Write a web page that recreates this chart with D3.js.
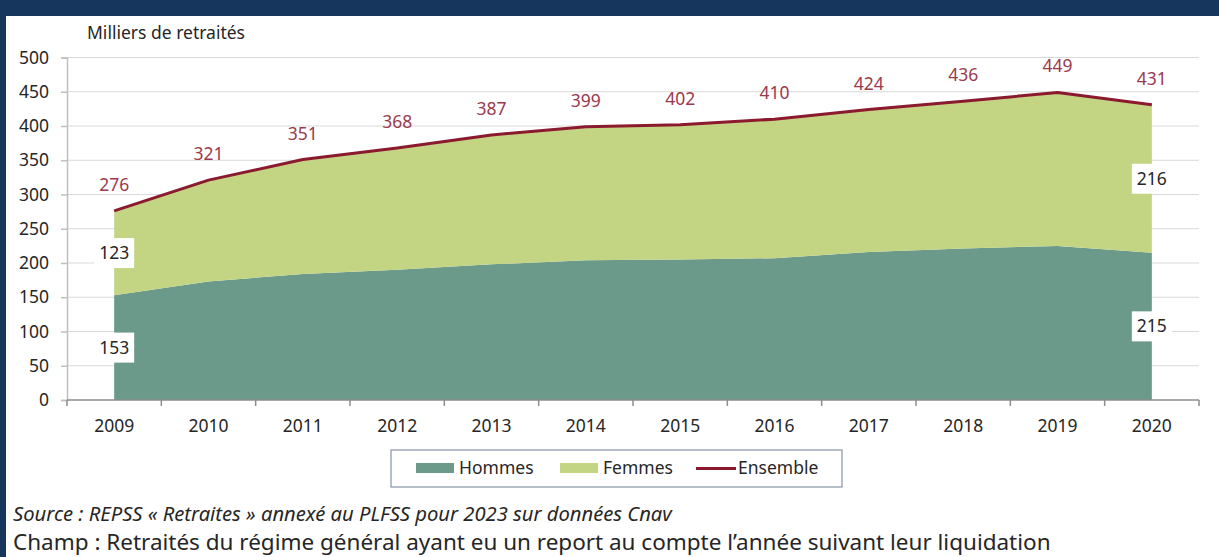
<!DOCTYPE html>
<html><head><meta charset="utf-8">
<script src="https://cdn.jsdelivr.net/npm/d3@7"></script>
<style>
html,body{margin:0;padding:0;background:#fff;}
svg{display:block;}
</style></head>
<body>
<svg id="c" width="1219" height="557"></svg>
<script>
const years = ["2009","2010","2011","2012","2013","2014","2015","2016","2017","2018","2019","2020"];
const hommes = [153,173,184,190,198,204,205,207,216,221,225,215];
const ensemble = [276,321,351,368,387,399,402,410,424,436,449,431];
const femmes = [123,148,167,178,189,195,197,203,208,215,224,216];
const yTicks = [0,50,100,150,200,250,300,350,400,450,500];
const legendLabels = ["Hommes","Femmes","Ensemble"];
const yTitle = "Milliers de retraités";
const sourceText = "Source : REPSS « Retraites » annexé au PLFSS pour 2023 sur données Cnav";
const champText = "Champ : Retraités du régime général ayant eu un report au compte l’année suivant leur liquidation";

const C = {h:"#6b9a8a", f:"#c3d483", line:"#8b1a2e", lab:"#9a3a4c", text:"#262626", navy:"#17365d"};
const FONT = "'Noto Sans', sans-serif";
const FS = 17.5;
const svg = d3.select("#c");

// frame
svg.append("rect").attr("x",0).attr("y",0).attr("width",1219).attr("height",16).attr("fill",C.navy);
svg.append("rect").attr("x",0).attr("y",0).attr("width",6).attr("height",557).attr("fill",C.navy);

const x = d3.scaleBand().domain(years).range([67,1199]);
const y = d3.scaleLinear().domain([0,500]).range([400,57.5]);
const cx = d => x(d) + x.bandwidth()/2;

// gridlines
svg.append("g").selectAll("line").data(yTicks.filter(t=>t>0)).join("line")
  .attr("x1",67).attr("x2",1199).attr("y1",d=>y(d)).attr("y2",d=>y(d))
  .attr("stroke","#d9d9d9").attr("stroke-width",1);

// stacked areas
const rows = years.map((yr,i)=>({year:yr, Hommes:hommes[i], Femmes:femmes[i]}));
const stack = d3.stack().keys(["Hommes","Femmes"])(rows);
const area = d3.area().x(d=>cx(d.data.year)).y0(d=>y(d[0])).y1(d=>y(d[1]));
svg.append("g").selectAll("path").data(stack).join("path")
  .attr("d",area).attr("fill",(d,i)=>i===0?C.h:C.f);

// ensemble line
const line = d3.line().x((d,i)=>cx(years[i])).y(d=>y(d));
svg.append("path").datum(ensemble).attr("d",line).attr("fill","none")
  .attr("stroke",C.line).attr("stroke-width",3).attr("stroke-linejoin","round");

// axes
const yAxis = d3.axisLeft(y).tickValues(yTicks).tickSize(6).tickPadding(12);
const gy = svg.append("g").attr("transform","translate(67,0)").call(yAxis);
gy.select(".domain").attr("stroke","#bfbfbf").attr("stroke-width",1.5);
gy.selectAll(".tick line").attr("stroke","#bfbfbf").attr("stroke-width",1.5);
gy.selectAll("text").attr("font-family",FONT).attr("font-size",FS).attr("fill",C.text);

const xAxis = d3.axisBottom(x).tickSize(0).tickPadding(20);
const gx = svg.append("g").attr("transform","translate(0,400)").call(xAxis);
gx.select(".domain").remove();
gx.selectAll("text").attr("font-family",FONT).attr("font-size",FS).attr("fill",C.text);
svg.append("line").attr("x1",67).attr("x2",1199).attr("y1",400).attr("y2",400).attr("stroke","#8c8c8c").attr("stroke-width",1.5);
const bounds = years.map(d=>x(d)).concat([x(years[years.length-1])+x.bandwidth()]);
svg.append("g").selectAll("line").data(bounds).join("line")
  .attr("x1",d=>d).attr("x2",d=>d).attr("y1",400).attr("y2",406)
  .attr("stroke","#8c8c8c").attr("stroke-width",1.5);

// ensemble labels
svg.append("g").selectAll("text").data(ensemble).join("text")
  .attr("x",(d,i)=>cx(years[i])).attr("y",d=>y(d)-20)
  .attr("text-anchor","middle").attr("font-family",FONT).attr("font-size",FS)
  .attr("fill",C.lab).text(d=>d);

// boxed labels for first and last years
const boxed = [];
[0, years.length-1].forEach(i=>{
  boxed.push({x:cx(years[i]), v:(hommes[i])/2, t:hommes[i]});
  boxed.push({x:cx(years[i]), v:hommes[i]+femmes[i]/2, t:femmes[i]});
});
const bg = svg.append("g").selectAll("g").data(boxed).join("g")
  .attr("transform",d=>`translate(${d.x},${y(d.v)})`);
bg.append("rect").attr("x",-20).attr("y",-15).attr("width",40).attr("height",30).attr("fill","#fff");
bg.append("text").attr("text-anchor","middle").attr("dy","0.35em")
  .attr("font-family",FONT).attr("font-size",FS).attr("fill",C.text).text(d=>d.t);

// y title
const yt = svg.append("text").attr("x",87).attr("y",39).attr("font-family",FONT)
  .attr("fill",C.text).text(yTitle);

// legend
const lg = svg.append("g");
lg.append("rect").attr("x",391).attr("y",450).attr("width",451).attr("height",37)
  .attr("fill","#fff").attr("stroke","#8594a6").attr("stroke-width",1.2);
lg.append("rect").attr("x",416).attr("y",463).attr("width",38).attr("height",10).attr("fill",C.h);
lg.append("rect").attr("x",560).attr("y",463).attr("width",38).attr("height",10).attr("fill",C.f);
lg.append("line").attr("x1",696).attr("x2",736).attr("y1",468.5).attr("y2",468.5).attr("stroke",C.line).attr("stroke-width",3);
const lx = [459,603,738];
lg.selectAll("text.l").data(legendLabels).join("text").attr("class","l")
  .attr("x",(d,i)=>lx[i]).attr("y",468).attr("dy","0.35em")
  .attr("font-family",FONT).attr("font-size",FS).attr("fill",C.text).text(d=>d);

// footer
function fitText(t, target){
  const n = t.node();
  let fs = 17; t.attr("font-size",fs);
  const w = n.getComputedTextLength();
  t.attr("font-size", fs*target/w);
}
fitText(yt, 158);
const s = svg.append("text").attr("x",13).attr("y",521).attr("font-family",FONT)
  .attr("font-style","italic").attr("fill",C.text).text(sourceText);
fitText(s, 659);
const ch = svg.append("text").attr("x",13).attr("y",550).attr("font-family",FONT)
  .attr("fill",C.text).text(champText);
fitText(ch, 1038);
</script>
</body></html>
